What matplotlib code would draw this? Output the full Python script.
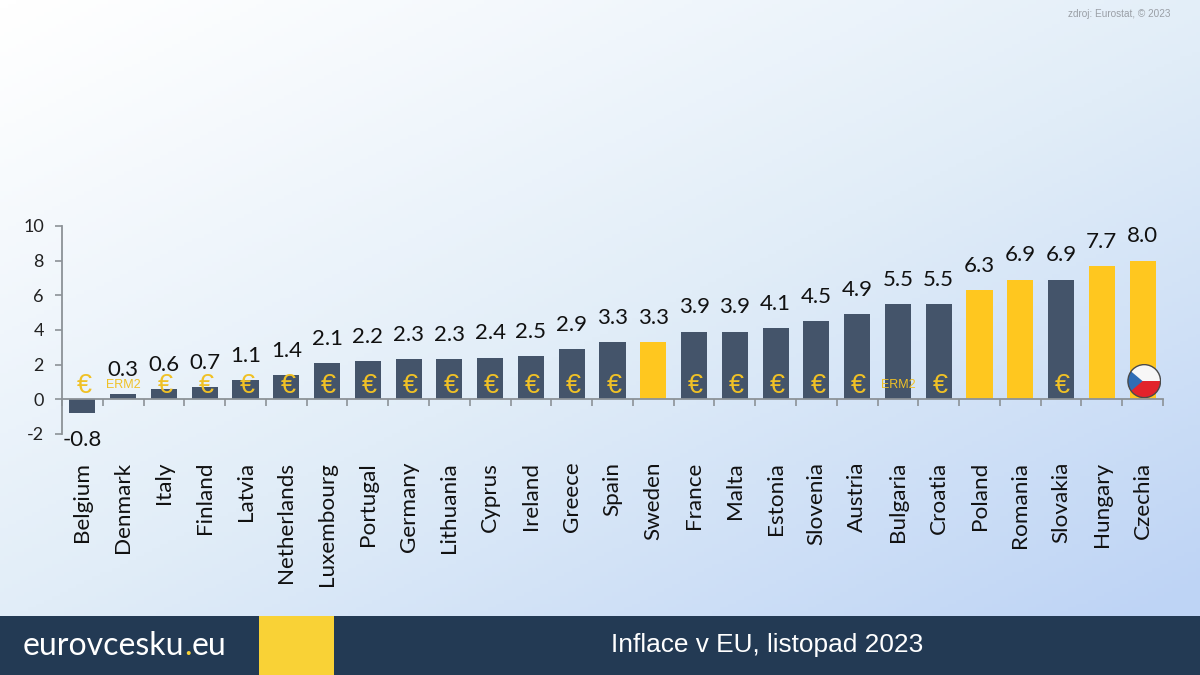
import numpy as np
import matplotlib
matplotlib.use("Agg")
import matplotlib.pyplot as plt
from matplotlib.colors import LinearSegmentedColormap
from matplotlib.patches import Circle, Rectangle, Polygon

plt.rcParams["axes.unicode_minus"] = False

countries = ["Belgium", "Denmark", "Italy", "Finland", "Latvia", "Netherlands", "Luxembourg",
             "Portugal", "Germany", "Lithuania", "Cyprus", "Ireland", "Greece", "Spain", "Sweden",
             "France", "Malta", "Estonia", "Slovenia", "Austria", "Bulgaria", "Croatia", "Poland",
             "Romania", "Slovakia", "Hungary", "Czechia"]
inflation = [-0.8, 0.3, 0.6, 0.7, 1.1, 1.4, 2.1, 2.2, 2.3, 2.3, 2.4, 2.5, 2.9, 3.3, 3.3,
             3.9, 3.9, 4.1, 4.5, 4.9, 5.5, 5.5, 6.3, 6.9, 6.9, 7.7, 8.0]
non_euro = ["Sweden", "Poland", "Romania", "Hungary", "Czechia"]
erm2 = ["Denmark", "Bulgaria"]
euro_members = [c for c in countries if c not in non_euro and c not in erm2]
y_ticks = [-2, 0, 2, 4, 6, 8, 10]

W, H = 1200, 675
DARK, YELLOW, GOLD, GREY = "#44546A", "#FFC71F", "#F0C126", "#8C9297"
FONT = ["Lato", "DejaVu Sans"]
ARIAL = ["Liberation Sans", "DejaVu Sans"]

fig = plt.figure(figsize=(12, 6.75), dpi=100)

# Page background and footer, in pixel coordinates
bg = fig.add_axes([0, 0, 1, 1], zorder=0)
bg.set_xlim(0, W); bg.set_ylim(H, 0); bg.axis("off")
xx, yy = np.meshgrid(np.linspace(0, 1, 300), np.linspace(0, 1, 170))
shade = (0.46 * xx + 0.54 * yy) ** 1.1
cmap = LinearSegmentedColormap.from_list("page", ["#FFFFFF", "#E1EDF8", "#BED4F5"])
bg.imshow(shade, extent=(0, W, H, 0), cmap=cmap, vmin=0, vmax=0.93, aspect="auto")
bg.add_patch(Rectangle((0, 616), W, 59, color="#233A54", lw=0))
bg.add_patch(Rectangle((259, 616), 75, 59, color="#F9D236", lw=0))
bg.text(767, 645, "Inflace v EU, listopad 2023", color="white", fontsize=18.9,
        family=ARIAL, ha="center", va="center")
bg.text(1171, 14, "zdroj: Eurostat, © 2023", color="#9A9FA6", fontsize=7.2,
        family=ARIAL, ha="right", va="center")
t1 = bg.text(23, 655, "eurovcesku", color="white", fontsize=23, family=FONT, va="baseline")
t2 = bg.annotate(".", xy=(1, 0), xycoords=t1, color="#F9D236", fontsize=23, family=FONT, va="bottom")
bg.annotate("eu", xy=(1, 0), xycoords=t2, color="white", fontsize=23, family=FONT, va="bottom")

# Chart: x 62-1163 px, y 226-434 px
ax = fig.add_axes([62 / W, 1 - 434 / H, (1163 - 62) / W, (434 - 226) / H], zorder=1)
ax.patch.set_alpha(0)
x = np.arange(len(countries))
colors = [YELLOW if c in non_euro else DARK for c in countries]
ax.bar(x, inflation, width=0.64, color=colors, zorder=2)
ax.set_xlim(-0.5, len(countries) - 0.5)
ax.set_ylim(y_ticks[0], y_ticks[-1])
ax.set_yticks(y_ticks)

for s in ("top", "right"):
    ax.spines[s].set_visible(False)
ax.spines["bottom"].set_position(("data", 0))
for s in ("left", "bottom"):
    ax.spines[s].set_color(GREY)
    ax.spines[s].set_linewidth(1.3)
ax.spines["bottom"].set_zorder(3)

ax.set_xticks(x)
ax.set_xticklabels(countries, rotation=90, fontsize=16.2, family=FONT, color="#111111")
ax.set_xticks(np.arange(len(countries) + 1) - 0.5, minor=True)
ax.tick_params(axis="x", which="major", length=0, pad=45)
ax.tick_params(axis="x", which="minor", length=5, width=1.2, color=GREY, direction="out")
ax.tick_params(axis="y", length=5, width=1.2, color=GREY, pad=8, labelsize=13, labelcolor="#222222")
for lab in ax.get_yticklabels():
    lab.set_family(FONT)

for i, (c, v) in enumerate(zip(countries, inflation)):
    ax.annotate(f"{v:.1f}", (i, v), xytext=(0, 17.5 if v >= 0 else -19),
                textcoords="offset points", ha="center", va="center",
                fontsize=16, family=FONT, color="#111111", zorder=5)
    if c in euro_members:
        ax.text(i + 0.04, 0.76, "€", color=GOLD, fontsize=19.5, family=ARIAL, ha="center",
                va="center", zorder=4)
    elif c in erm2:
        ax.text(i, 0.8, "ERM2", color=GOLD, fontsize=9, family=ARIAL, ha="center",
                va="center", zorder=4)

# Czech flag badge on the last bar
i_cz = countries.index("Czechia")
fx = ax.inset_axes([i_cz - 0.38, 0.05, 0.84, 2.0], transform=ax.transData, zorder=6)
fx.set_xlim(-1.05, 1.05); fx.set_ylim(-1.05, 1.05); fx.axis("off")
clip = Circle((0, 0), 1, transform=fx.transData)
for patch in (Rectangle((-1, 0), 2, 1, color="#F7F7F7", lw=0),
              Rectangle((-1, -1), 2, 1, color="#E2232B", lw=0),
              Polygon([(-1, 0.75), (-0.1, 0), (-1, -0.75)], color="#2F6DB5", lw=0)):
    fx.add_patch(patch)
    patch.set_clip_path(clip)
fx.add_patch(Circle((0, 0), 1, fill=False, ec="#4A4A4A", lw=1.0))

fig.savefig("out.png", dpi=100)
